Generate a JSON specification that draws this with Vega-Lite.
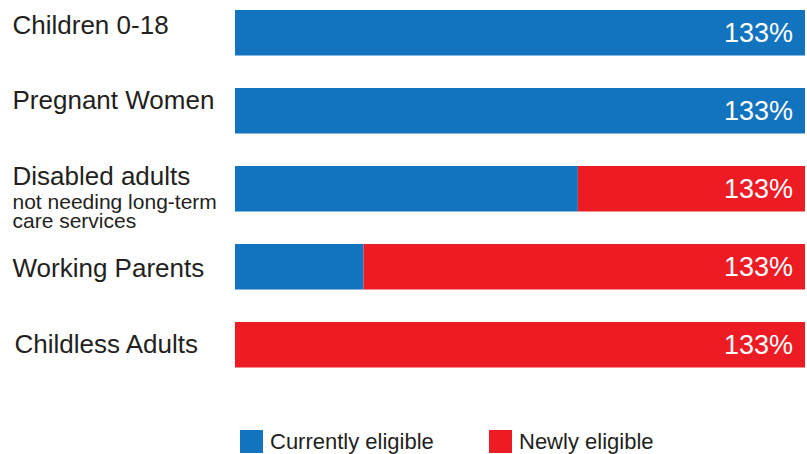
{
  "$schema": "https://vega.github.io/schema/vega-lite/v6.json",
  "width": 570,
  "height": 377.5,
  "autosize": {"type": "none"},
  "padding": {"left": 235, "top": 0, "right": 2, "bottom": 76.5},
  "background": "white",
  "config": {"view": {"stroke": null}, "font": "Liberation Sans"},
  "datasets": {
    "bars": [
      {"category": "Children 0-18", "status": "Currently eligible", "value": 133},
      {"category": "Pregnant Women", "status": "Currently eligible", "value": 133},
      {"category": "Disabled adults", "status": "Currently eligible", "value": 80},
      {"category": "Disabled adults", "status": "Newly eligible", "value": 53},
      {"category": "Working Parents", "status": "Currently eligible", "value": 30},
      {"category": "Working Parents", "status": "Newly eligible", "value": 103},
      {"category": "Childless Adults", "status": "Newly eligible", "value": 133}
    ],
    "totals": [
      {"category": "Children 0-18", "total": 133, "label": "133%"},
      {"category": "Pregnant Women", "total": 133, "label": "133%"},
      {"category": "Disabled adults", "total": 133, "label": "133%"},
      {"category": "Working Parents", "total": 133, "label": "133%"},
      {"category": "Childless Adults", "total": 133, "label": "133%"}
    ]
  },
  "layer": [
    {
      "data": {"name": "bars"},
      "mark": {"type": "bar"},
      "encoding": {
        "y": {
          "field": "category",
          "type": "nominal",
          "sort": ["Children 0-18", "Pregnant Women", "Disabled adults", "Working Parents", "Childless Adults"],
          "scale": {"paddingInner": 0.417, "paddingOuter": 0.128},
          "axis": {
            "title": null,
            "orient": "left",
            "domain": false,
            "ticks": false,
            "labelAlign": "left",
            "labelPadding": 223,
            "labelFontSize": 26,
            "labelFont": "Liberation Sans",
            "labelColor": "#231F20",
            "labelLimit": 400,
            "labelBaseline": "middle",
            "labelOffset": {
              "condition": [
                {"test": "datum.value === 'Children 0-18'", "value": -7},
                {"test": "datum.value === 'Pregnant Women'", "value": -10},
                {"test": "datum.value === 'Disabled adults'", "value": -12},
                {"test": "datum.value === 'Working Parents'", "value": 2}
              ],
              "value": 0
            },
            "labelPadding": {
              "condition": {"test": "datum.value === 'Childless Adults'", "value": 221},
              "value": 223
            }
          }
        },
        "x": {
          "field": "value",
          "type": "quantitative",
          "stack": "zero",
          "scale": {"domain": [0, 133], "nice": false},
          "axis": null
        },
        "color": {
          "field": "status",
          "type": "nominal",
          "scale": {"domain": ["Currently eligible", "Newly eligible"], "range": ["#1273BE", "#ED1C24"]},
          "legend": {
            "title": null,
            "orient": "none",
            "legendX": 5,
            "legendY": 430,
            "direction": "horizontal",
            "columns": 2,
            "columnPadding": 55,
            "padding": 0,
            "symbolType": "square",
            "symbolSize": 529,
            "symbolStrokeWidth": 0,
            "symbolOpacity": 1,
            "labelFontSize": 22,
            "labelFont": "Liberation Sans",
            "labelColor": "#231F20",
            "labelOffset": 7,
            "labelLimit": 400
          }
        }
      }
    },
    {
      "data": {"name": "totals"},
      "mark": {"type": "text", "align": "right", "baseline": "middle", "dx": -12, "dy": 1, "fontSize": 27, "font": "Liberation Sans", "color": "white"},
      "encoding": {
        "y": {
          "field": "category",
          "type": "nominal",
          "sort": ["Children 0-18", "Pregnant Women", "Disabled adults", "Working Parents", "Childless Adults"],
          "axis": {
            "title": null,
            "orient": "left",
            "domain": false,
            "ticks": false,
            "labelAlign": "left",
            "labelPadding": 223,
            "labelFontSize": 21,
            "labelFont": "Liberation Sans",
            "labelColor": "#231F20",
            "labelLimit": 400,
            "labelLineHeight": 19,
            "labelBaseline": "top",
            "labelOffset": 3,
            "labelExpr": "datum.value === 'Disabled adults' ? ['not needing long-term', 'care services'] : ''"
          }
        },
        "x": {"field": "total", "type": "quantitative"},
        "text": {"field": "label"}
      }
    }
  ],
  "resolve": {"axis": {"y": "independent"}}
}
